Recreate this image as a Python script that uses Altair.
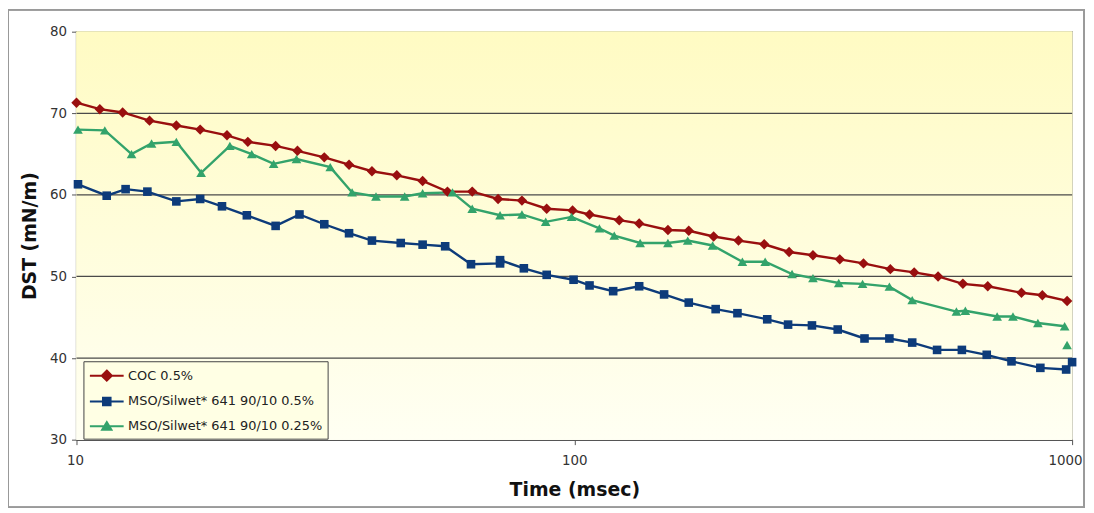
import altair as alt
import pandas as pd

series_names = ["COC 0.5%", "MSO/Silwet* 641 90/10 0.5%", "MSO/Silwet* 641 90/10 0.25%"]
series_colors = ["#990F0F", "#0D3B7A", "#33A36B"]
series_shapes = ["diamond", "square", "triangle-up"]
legend_paths = [
    "M-2,0L2,0M0,-0.6L0.6,0L0,0.6L-0.6,0Z",
    "M-2,0L2,0M-0.45,-0.45L0.45,-0.45L0.45,0.45L-0.45,0.45Z",
    "M-2,0L2,0M0,-0.5L0.55,0.4L-0.55,0.4Z",
]

coc_t = [10, 11.14, 12.38, 14.02, 15.87, 17.72, 20.06, 22.09, 25.12, 27.79,
         31.46, 35.28, 39.22, 44.00, 49.58, 55.61, 62.37, 70.29, 78.49, 88.01,
         99.2, 107.3, 123.1, 135.0, 154.2, 169.8, 190.5, 213.7, 240.7, 270.1,
         301.6, 341.4, 381.0, 431.4, 481.7, 538.0, 603.4, 676.9, 791.2, 871.4,
         977.2]
coc_v = [71.3, 70.5, 70.1, 69.1, 68.5, 68.0, 67.3, 66.5, 66.0, 65.4,
         64.6, 63.7, 62.9, 62.4, 61.7, 60.4, 60.4, 59.5, 59.3, 58.3,
         58.1, 57.6, 56.9, 56.5, 55.7, 55.6, 54.9, 54.4, 53.95, 53.0,
         52.6, 52.1, 51.6, 50.9, 50.5, 50.0, 49.1, 48.8, 48.0, 47.7,
         47.0]

mso05_t = [10.07, 11.50, 12.55, 13.88, 15.87, 17.72, 19.60, 21.99, 25.12, 28.05,
           31.46, 35.28, 39.22, 44.81, 49.58, 55.03, 62.01, 70.94, 70.94, 79.19,
           88.01, 99.66, 107.3, 119.7, 135.0, 151.5, 169.8, 192.3, 212.7, 244.1,
           268.8, 300.2, 338.2, 382.8, 429.5, 477.3, 535.5, 600.6, 673.8, 755.5,
           863.4, 972.8, 1000]
mso05_v = [61.3, 59.9, 60.7, 60.4, 59.2, 59.5, 58.6, 57.5, 56.2, 57.6,
           56.4, 55.3, 54.4, 54.1, 53.9, 53.7, 51.5, 51.6, 52.0, 51.0,
           50.2, 49.6, 48.9, 48.2, 48.8, 47.8, 46.8, 46.0, 45.5, 44.75,
           44.1, 44.0, 43.5, 42.4, 42.4, 41.9, 41.0, 41.0, 40.4, 39.6,
           38.8, 38.6, 39.5]

mso025_t = [10.07, 11.40, 12.90, 14.15, 15.87, 17.80, 20.33, 22.49, 24.89, 27.66,
            32.34, 35.78, 39.96, 45.63, 49.58, 56.92, 62.37, 70.94, 78.49, 87.61,
            98.74, 112.3, 120.3, 135.6, 154.2, 169.0, 189.6, 217.6, 241.8, 273.8,
            301.6, 339.8, 379.4, 429.5, 477.3, 585.6, 610.3, 707.0, 760.7, 853.6,
            966.1]
mso025_v = [68.0, 67.9, 65.0, 66.3, 66.5, 62.7, 66.0, 65.0, 63.8, 64.4,
            63.4, 60.3, 59.8, 59.8, 60.2, 60.3, 58.3, 57.5, 57.6, 56.7,
            57.3, 55.9, 55.0, 54.1, 54.1, 54.4, 53.8, 51.8, 51.8, 50.3,
            49.8, 49.2, 49.1, 48.75, 47.1, 45.7, 45.8, 45.1, 45.1, 44.3,
            43.9]
mso025_tail_t = [977.0]
mso025_tail_v = [41.6]

grid_values = [40, 50, 60, 70]
x_ticks = [10, 100, 1000]
y_ticks = [30, 40, 50, 60, 70, 80]

rows = []
for name, ts, vs, seg in [
    (series_names[0], coc_t, coc_v, "a"),
    (series_names[1], mso05_t, mso05_v, "b"),
    (series_names[2], mso025_t, mso025_v, "c"),
    (series_names[2], mso025_tail_t, mso025_tail_v, "d"),
]:
    for i, (t, v) in enumerate(zip(ts, vs)):
        rows.append({"series": name, "t": t, "v": v, "order": i, "seg": seg})
df = pd.DataFrame(rows)

legend_df = pd.DataFrame({"series": series_names, "t": [100000] * 3, "v": [50] * 3})
grid_df = pd.DataFrame({"v": grid_values})

FONT = "DejaVu Sans"
W, H = 1003, 411

xscale = alt.Scale(type="log", domain=[10, 1000], nice=False)
yscale = alt.Scale(domain=[30, 80], nice=False, zero=False)

x_axis = alt.Axis(
    values=x_ticks, format="d", title="Time (msec)", grid=False,
    labelFont=FONT, labelFontSize=13.5, labelColor="#333", labelPadding=9,
    tickSize=5, tickColor="#555", domainColor="#555", domainWidth=1.5,
    titleFont=FONT, titleFontSize=19, titleFontWeight="bold", titleColor="#111",
    titlePadding=14, labelFlush=True, labelFlushOffset=10)
y_axis = alt.Axis(
    values=y_ticks, title="DST (mN/m)", grid=False,
    labelFont=FONT, labelFontSize=13.5, labelColor="#333", labelPadding=5,
    tickSize=5, tickColor="#555", domainColor="#555", domainWidth=1.5,
    titleFont=FONT, titleFontSize=19, titleFontWeight="bold", titleColor="#111",
    titlePadding=10)
x_enc = alt.X("t:Q", scale=xscale, axis=x_axis)
y_enc = alt.Y("v:Q", scale=yscale, axis=y_axis)

gradient = {
    "gradient": "linear", "x1": 0, "y1": 0, "x2": 0, "y2": 1,
    "stops": [{"offset": 0, "color": "#FFFBC3"}, {"offset": 1, "color": "#FFFFF3"}],
}

leg = alt.Legend(
    title=None, orient="none", legendX=7, legendY=332,
    fillColor="#FFFFE4", strokeColor="#444", padding=5,
    labelFont=FONT, labelFontSize=13, labelColor="#222",
    symbolSize=289, symbolStrokeWidth=2, symbolOffset=9, labelOffset=12,
    rowPadding=7, labelLimit=400)

legend_layer = alt.Chart(legend_df).mark_point(filled=True, opacity=1, clip=True).encode(
    x=x_enc, y=y_enc,
    shape=alt.Shape("series:N", scale=alt.Scale(domain=series_names, range=legend_paths), legend=leg),
    fill=alt.Fill("series:N", scale=alt.Scale(domain=series_names, range=series_colors), legend=leg),
    stroke=alt.Stroke("series:N", scale=alt.Scale(domain=series_names, range=series_colors), legend=leg),
)

bg = alt.Chart(grid_df).mark_rect(color=gradient).encode(
    x=alt.value(0), x2=alt.value("width"), y=alt.value(0), y2=alt.value("height"))

frame = alt.Chart(grid_df).mark_rect(fillOpacity=0, stroke="#9a9a9a", strokeWidth=1.5).encode(
    x=alt.value(-69), x2=alt.value(1015), y=alt.value(-22), y2=alt.value(479))

grid = alt.Chart(grid_df).mark_rule(color="#4a4a4a", strokeWidth=1.3).encode(y=y_enc)

series_layers = []
for name, col in zip(series_names, series_colors):
    series_layers.append(
        alt.Chart(df).transform_filter(alt.datum.series == name)
        .mark_line(strokeWidth=2.4, color=col)
        .encode(x=x_enc, y=y_enc, detail="seg:N", order="order:Q")
    )
for name, col, shp, sz in zip(series_names, series_colors, series_shapes, [110, 75, 95]):
    series_layers.append(
        alt.Chart(df).transform_filter(alt.datum.series == name)
        .mark_point(filled=True, opacity=1, shape=shp, size=sz, color=col)
        .encode(x=x_enc, y=y_enc)
    )

chart = alt.layer(legend_layer, bg, frame, grid, *series_layers).properties(
    width=W, height=H,
    autosize=alt.AutoSizeParams(type="none"),
    padding={"left": 69, "top": 22, "right": 14, "bottom": 70},
).configure_view(stroke="#b0b0a0", strokeWidth=1.5)

chart.save("out.html", embed_options={"renderer": "svg", "actions": False})
